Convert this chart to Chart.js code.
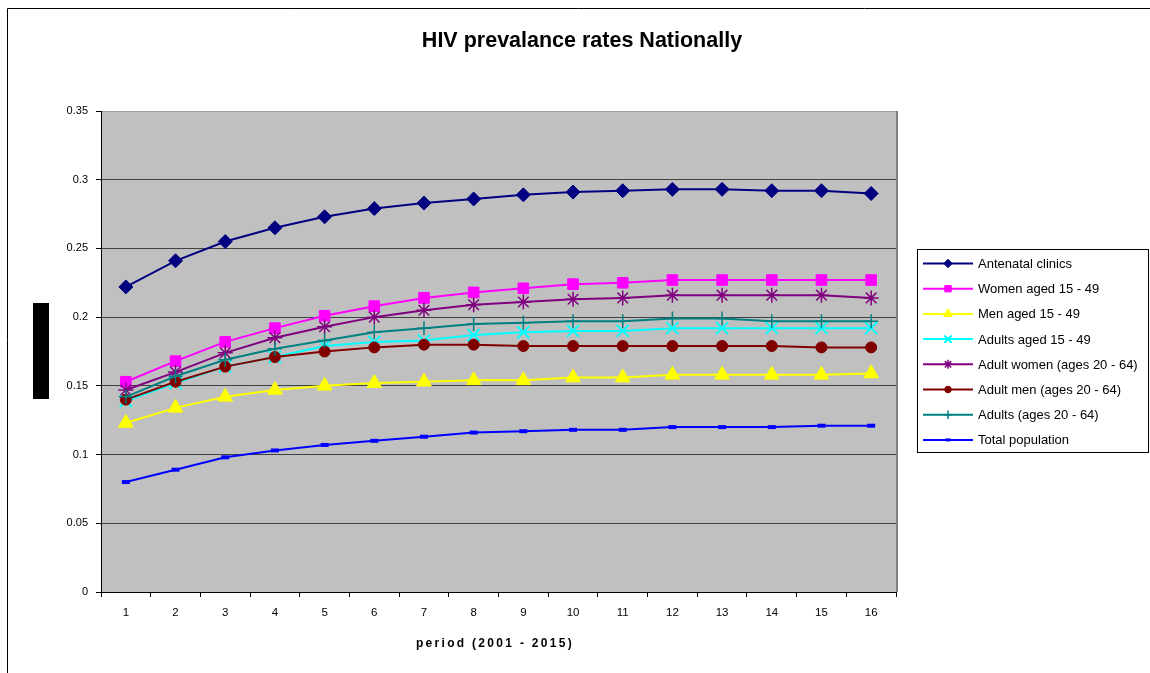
<!DOCTYPE html>
<html>
<head>
<meta charset="utf-8">
<title>HIV prevalance rates Nationally</title>
<script src="https://cdn.jsdelivr.net/npm/chart.js@4.4.1/dist/chart.umd.min.js"></script>
<style>
    html, body { margin: 0; padding: 0; background: #fff; }
    #wrap { position: relative; width: 1150px; height: 673px; overflow: hidden; }
    #chartTitle {
        position: absolute; left: 0; width: 1164px; top: 28px;
        text-align: center; color: #000;
        font: bold 21.5px "Liberation Sans", Arial, sans-serif;
    }
    #xTitle {
        position: absolute; left: 0; width: 990px; top: 636px;
        text-align: center; color: #000; letter-spacing: 2.3px;
        font: bold 12px "Liberation Sans", Arial, sans-serif;
    }
</style>
</head>
<body>
<div id="wrap">
    <canvas id="hivChart" width="1150" height="673"></canvas>
    <div id="chartTitle">HIV prevalance rates Nationally</div>
    <div id="xTitle">period (2001 - 2015)</div>
</div>
<script>
// period 1..16 (2001 - 2015)
const periods = ['1','2','3','4','5','6','7','8','9','10','11','12','13','14','15','16'];

const antenatalClinics = [0.222, 0.241, 0.255, 0.265, 0.273, 0.279, 0.283, 0.286, 0.289, 0.291, 0.292, 0.293, 0.293, 0.292, 0.292, 0.290];
const women1549       = [0.153, 0.168, 0.182, 0.192, 0.201, 0.208, 0.214, 0.218, 0.221, 0.224, 0.225, 0.227, 0.227, 0.227, 0.227, 0.227];
const men1549         = [0.123, 0.134, 0.142, 0.147, 0.150, 0.152, 0.153, 0.154, 0.154, 0.156, 0.156, 0.158, 0.158, 0.158, 0.158, 0.159];
const adults1549      = [0.139, 0.152, 0.164, 0.171, 0.179, 0.182, 0.183, 0.187, 0.189, 0.190, 0.190, 0.192, 0.192, 0.192, 0.192, 0.192];
const adultWomen2064  = [0.147, 0.160, 0.174, 0.185, 0.193, 0.200, 0.205, 0.209, 0.211, 0.213, 0.214, 0.216, 0.216, 0.216, 0.216, 0.214];
const adultMen2064    = [0.140, 0.153, 0.164, 0.171, 0.175, 0.178, 0.180, 0.180, 0.179, 0.179, 0.179, 0.179, 0.179, 0.179, 0.178, 0.178];
const adults2064      = [0.142, 0.157, 0.169, 0.177, 0.183, 0.189, 0.192, 0.195, 0.196, 0.197, 0.197, 0.199, 0.199, 0.197, 0.197, 0.197];
const totalPopulation = [0.080, 0.089, 0.098, 0.103, 0.107, 0.110, 0.113, 0.116, 0.117, 0.118, 0.118, 0.120, 0.120, 0.120, 0.121, 0.121];

const yTicks = [0, 0.05, 0.1, 0.15, 0.2, 0.25, 0.3, 0.35];

const FONT = '"Liberation Sans", Arial, sans-serif';

function series(label, data, color, style, radius, bw) {
    return {
        label: label,
        data: data,
        borderColor: color,
        backgroundColor: color,
        borderWidth: 2,
        tension: 0,
        fill: false,
        pointStyle: style,
        pointRadius: radius,
        pointHoverRadius: radius,
        pointBackgroundColor: color,
        pointBorderColor: color,
        pointBorderWidth: bw
    };
}

const datasets = [
    series('Antenatal clinics', antenatalClinics, '#000080', 'rectRot', 7, 1),
    series('Women aged 15 - 49', women1549, '#FF00FF', 'rect', 7.5, 1),
    series('Men aged 15 - 49', men1549, '#FFFF00', 'triangle', 8.5, 1),
    series('Adults aged 15 - 49', adults1549, '#00FFFF', 'crossRot', 8.5, 2),
    series('Adult women (ages 20 - 64)', adultWomen2064, '#800080', 'star', 7.5, 1.5),
    series('Adult men (ages 20 - 64)', adultMen2064, '#800000', 'circle', 5.5, 1),
    series('Adults (ages 20 - 64)', adults2064, '#008080', 'cross', 7, 1.5),
    series('Total population', totalPopulation, '#0000FF', 'line', 4, 4)
];
// excel draws later series on top
datasets.forEach((d, i) => { d.order = datasets.length - 1 - i; });

// plot background, frame and the blacked-out box on the left
const backdrop = {
    id: 'backdrop',
    beforeDraw(chart) {
        const ctx = chart.ctx;
        const a = chart.chartArea;
        ctx.save();
        ctx.fillStyle = '#C0C0C0';
        ctx.fillRect(a.left, a.top, a.right - a.left, a.bottom - a.top);

        ctx.strokeStyle = '#000';
        ctx.lineWidth = 1;
        ctx.beginPath();
        ctx.moveTo(7.5, 673);
        ctx.lineTo(7.5, 8.5);
        ctx.lineTo(1150, 8.5);
        ctx.stroke();

        ctx.fillStyle = '#000';
        ctx.fillRect(33, 303, 16, 96);
        ctx.restore();
    },
    afterDraw(chart) {
        const ctx = chart.ctx;
        const a = chart.chartArea;
        ctx.save();
        ctx.strokeStyle = '#808080';
        ctx.lineWidth = 2;
        ctx.beginPath();
        ctx.moveTo(a.right + 1, a.top);
        ctx.lineTo(a.right + 1, a.bottom);
        ctx.stroke();
        ctx.restore();
    }
};

// boxed legend on the right, line + marker like the spreadsheet
const boxLegend = {
    id: 'boxLegend',
    afterDraw(chart) {
        const ctx = chart.ctx;
        const left = 917, top = 249, w = 231, h = 203;
        ctx.save();
        ctx.fillStyle = '#fff';
        ctx.fillRect(left, top, w, h);
        ctx.strokeStyle = '#000';
        ctx.lineWidth = 1;
        ctx.strokeRect(left + 0.5, top + 0.5, w, h);

        ctx.font = '13px ' + FONT;
        ctx.textBaseline = 'middle';
        ctx.textAlign = 'left';
        chart.data.datasets.forEach((ds, i) => {
            const y = 263.5 + i * 25.2;
            ctx.strokeStyle = ds.borderColor;
            ctx.lineWidth = 2;
            ctx.beginPath();
            ctx.moveTo(923, y);
            ctx.lineTo(973, y);
            ctx.stroke();

            ctx.fillStyle = ds.pointBackgroundColor;
            ctx.strokeStyle = ds.pointBorderColor;
            ctx.lineWidth = ds.pointStyle === 'line' ? 3 : ds.pointBorderWidth;
            Chart.helpers.drawPoint(ctx, {
                pointStyle: ds.pointStyle,
                radius: ds.pointRadius * 0.6,
                rotation: 0,
                borderWidth: ctx.lineWidth
            }, 948, y);

            ctx.fillStyle = '#000';
            ctx.fillText(ds.label, 978, y + 1);
        });
        ctx.restore();
    }
};

const ctx = document.getElementById('hivChart').getContext('2d');
new Chart(ctx, {
    type: 'line',
    data: { labels: periods, datasets: datasets },
    plugins: [backdrop, boxLegend],
    options: {
        responsive: false,
        animation: false,
        layout: { padding: { left: 60, right: 254, top: 111, bottom: 18 } },
        plugins: {
            legend: { display: false },
            title: { display: false },
            tooltip: { enabled: false }
        },
        scales: {
            x: {
                type: 'category',
                offset: true,
                grid: {
                    offset: true,
                    drawOnChartArea: false,
                    drawTicks: true,
                    tickLength: 5,
                    color: '#000'
                },
                border: { color: '#000', width: 1 },
                ticks: {
                    color: '#000',
                    font: { family: FONT, size: 11.5 },
                    padding: 9,
                    maxRotation: 0,
                    autoSkip: false
                },
                // axis title is the #xTitle element (needs letter spacing)
                title: { display: false },
                afterFit(scale) { scale.height = 63; }
            },
            y: {
                min: 0,
                max: 0.35,
                afterBuildTicks(scale) {
                    scale.ticks = yTicks.map(v => ({ value: v }));
                },
                ticks: {
                    color: '#000',
                    font: { family: FONT, size: 11 },
                    padding: 8,
                    callback: v => String(+Number(v).toFixed(2))
                },
                grid: {
                    color: c => (c.tick && c.tick.value === 0.35) ? '#A0A0A0' : '#404040',
                    tickColor: '#000',
                    tickLength: 5,
                    lineWidth: 1
                },
                border: { color: '#000', width: 1 },
                afterFit(scale) { scale.width = 41; }
            }
        }
    }
});
</script>
</body>
</html>
